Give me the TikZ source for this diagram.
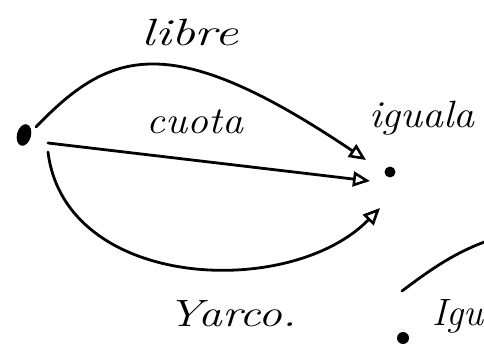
\documentclass[tikz,border=0pt]{standalone}
\usetikzlibrary{arrows.meta,shapes.geometric}
\begin{document}
\begin{tikzpicture}[x=1pt,y=-1pt,
  edge/.style={line width=2.8pt,line cap=round,-{Triangle[open,length=17pt,width=15pt,line width=2.6pt]}},
  plain/.style={line width=2.8pt,line cap=round},
  lbl/.style={font=\itshape\fontsize{38}{38}\selectfont,inner sep=0pt},
  dot/.style={circle,fill=black,inner sep=0pt,minimum size=#1}]
\useasboundingbox (0,0) rectangle (484,352);
\clip (0,0) rectangle (484,352);
% nodes
\node[ellipse,fill=black,inner sep=0pt,minimum width=14pt,minimum height=22pt,rotate=-15] (s) at (24,135) {};
\node[dot=11pt] (t) at (390,172) {};
\node[dot=12pt] (b) at (403,338) {};
\coordinate (c1) at (402,291);
\coordinate (c2) at (490,240);
% labels
\node[lbl] (libre) at (190,33) {\scalebox{1.4}[1]{libre}};
\node[lbl] (cuota) at (195,122) {\scalebox{1.1}[1]{cuota}};
\node[lbl] (iguala) at (422,118) {\scalebox{1.1}[1]{iguala}};
\node[lbl] (yarco) at (232,314) {\scalebox{1.25}[1]{Yarco.}};
\node[lbl,anchor=east] (igu) at (484,316) {\scalebox{1.0}[1]{Igu}};
% connectors
\draw[edge] (36,127) .. controls (110,50) and (170,28) .. (366,160);
\draw[edge] (48,143) -- (370,181);
\draw[edge] (48,152) .. controls (65,290) and (290,300) .. (380,208);
\draw[plain] (c1) .. controls (430,270) and (455,252) .. (c2);
\end{tikzpicture}
\end{document}
